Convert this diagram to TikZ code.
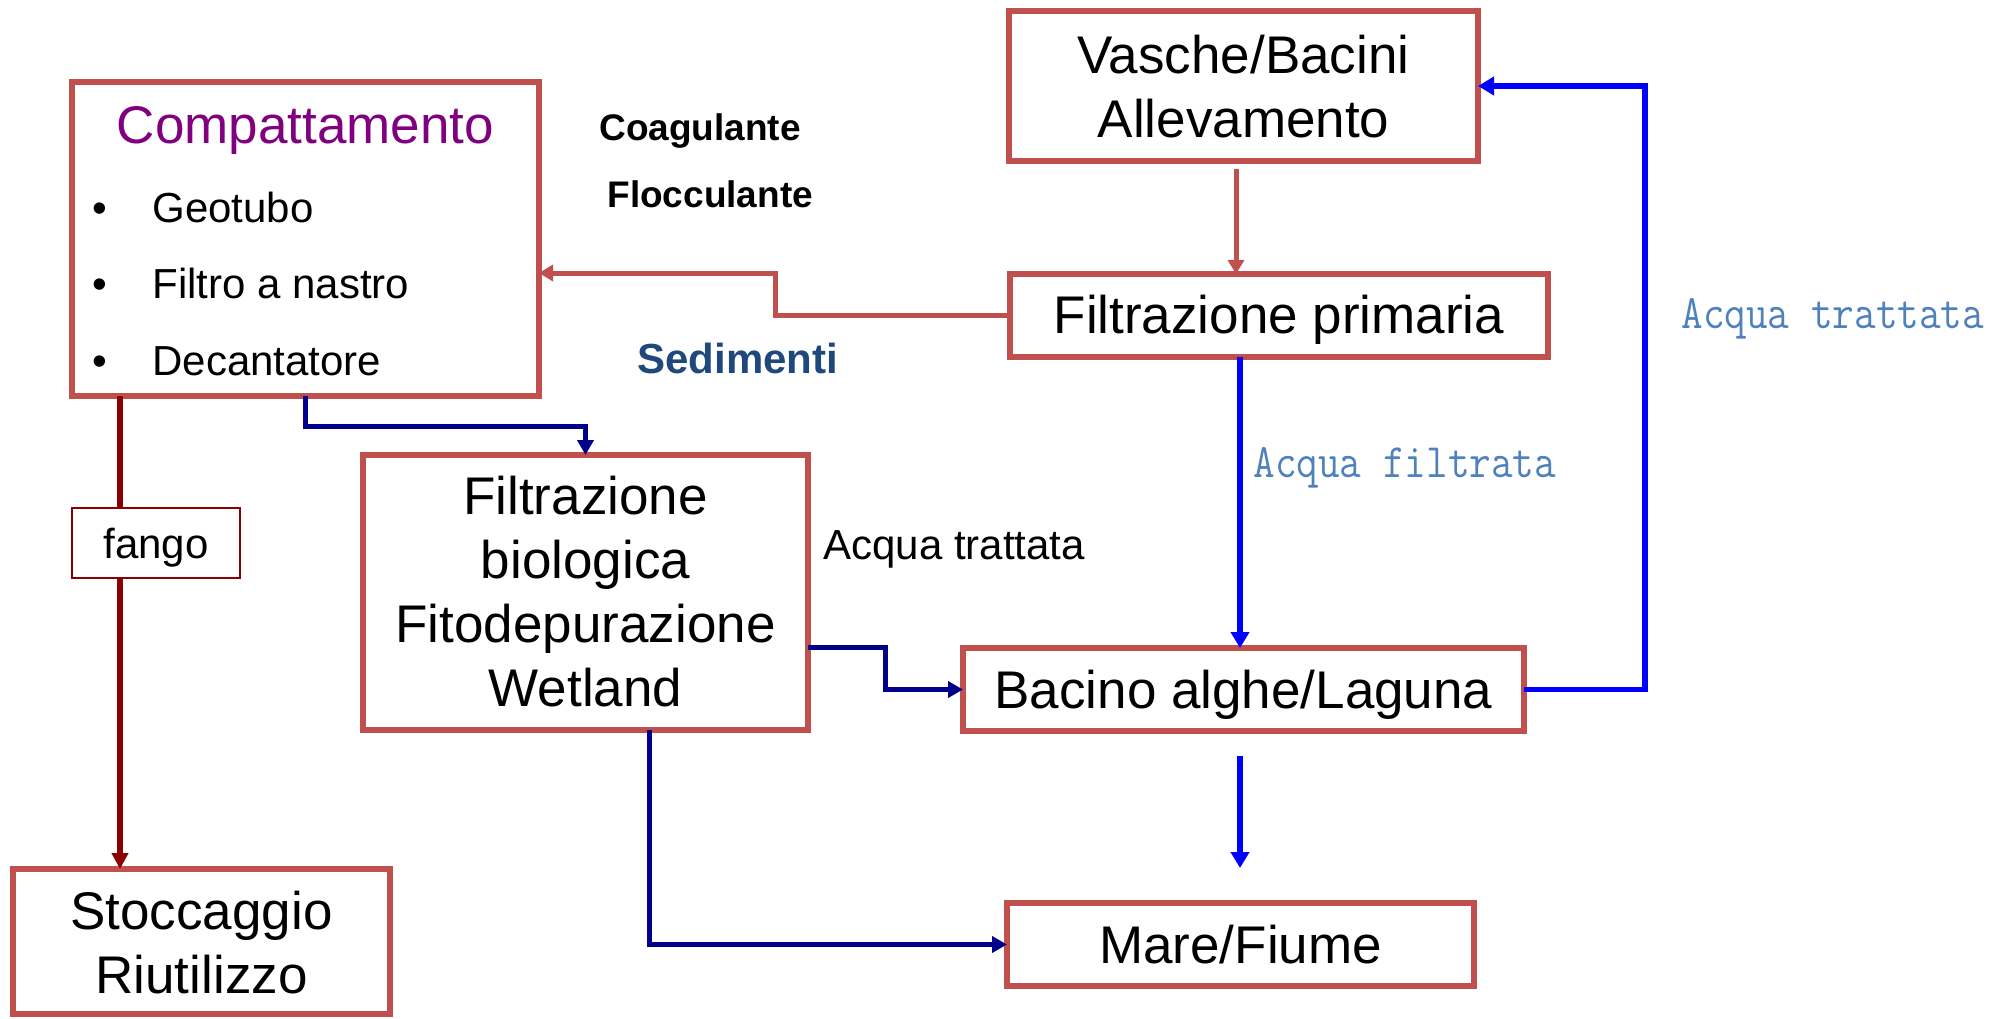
\documentclass[tikz,border=0pt]{standalone}
\usepackage{fontspec}
\setmainfont{Liberation Sans}
\usetikzlibrary{arrows.meta,calc}
\definecolor{boxred}{HTML}{C0504D}
\definecolor{fangored}{HTML}{8B0000}
\definecolor{navyline}{HTML}{00008B}
\definecolor{pureblue}{HTML}{0000FF}
\definecolor{titlepurple}{HTML}{800080}
\definecolor{sedblue}{HTML}{1F497D}
\definecolor{monoblue}{HTML}{4F81BD}
\tikzset{
  box/.style={draw=boxred, line width=2.75pt, inner sep=0pt, outer sep=0pt, rectangle},
  fangobox/.style={draw=fangored, line width=1pt, inner sep=0pt, outer sep=0pt, rectangle},
  bigtxt/.style={font=\fontsize{26.5pt}{32pt}\selectfont, anchor=base, inner sep=0pt},
  midtxt/.style={font=\fontsize{21pt}{25pt}\selectfont, anchor=base west, inner sep=0pt},
  boldtxt/.style={font=\fontsize{18.5pt}{22pt}\selectfont\bfseries, anchor=base west, inner sep=0pt},
  monotxt/.style={font=\fontsize{24pt}{28pt}\selectfont\ttfamily, text=monoblue, anchor=base west, inner sep=0pt},
  redarrow/.style={draw=boxred, line width=2.5pt, -{Triangle[length=7pt,width=8pt]}},
  navyarrow/.style={draw=navyline, line width=2.5pt, -{Triangle[length=7.5pt,width=8pt]}},
  bluearrow/.style={draw=pureblue, line width=2.6pt, -{Triangle[length=8pt,width=9pt]}},
  fangoline/.style={draw=fangored, line width=3pt},
  fangoarrow/.style={draw=fangored, line width=3pt, -{Triangle[length=8pt,width=8pt]}},
}
\begin{document}
\begin{tikzpicture}[x=0.5pt,y=-0.5pt]
\useasboundingbox (0,0) rectangle (1990,1018);

% boxes
\node[box, minimum width=233.5pt, minimum height=157pt] (comp) at (305.5,239) {};
\node[box, minimum width=234.5pt, minimum height=75pt] (vas) at (1243.5,86) {};
\node[box, minimum width=269pt, minimum height=41.5pt] (fp) at (1279,315.5) {};
\node[box, minimum width=222.5pt, minimum height=137.5pt] (fb) at (585.5,592.5) {};
\node[box, minimum width=280.5pt, minimum height=41.5pt] (bac) at (1243.5,689.5) {};
\node[box, minimum width=233.5pt, minimum height=41.5pt] (mare) at (1240.5,944.5) {};
\node[box, minimum width=188.5pt, minimum height=72.5pt] (sto) at (201.5,941.5) {};
\node[fangobox, minimum width=84pt, minimum height=35pt] (fango) at (156,543) {};

% box texts
\node[bigtxt, text=titlepurple] (tcomp) at (305.5,143) {Compattamento};
\node[midtxt] (b1) at (92,222) {•};
\node[midtxt] (i1) at (152,222) {Geotubo};
\node[midtxt] (b2) at (92,298) {•};
\node[midtxt] (i2) at (152,298) {Filtro a nastro};
\node[midtxt] (b3) at (92,375) {•};
\node[midtxt] (i3) at (152,375) {Decantatore};

\node[bigtxt] (tvas1) at (1243.5,73) {Vasche/Bacini};
\node[bigtxt] (tvas2) at (1243.5,137) {Allevamento};
\node[bigtxt] (tfp) at (1279,333) {Filtrazione primaria};
\node[bigtxt] (tfb1) at (585.5,514) {Filtrazione};
\node[bigtxt] (tfb2) at (585.5,578) {biologica};
\node[bigtxt] (tfb3) at (585.5,642) {Fitodepurazione};
\node[bigtxt] (tfb4) at (585.5,706) {Wetland};
\node[bigtxt] (tbac) at (1243.5,708) {Bacino alghe/Laguna};
\node[bigtxt] (tmare) at (1240.5,963) {Mare/Fiume};
\node[bigtxt] (tsto1) at (201.5,929) {Stoccaggio};
\node[bigtxt] (tsto2) at (201.5,993) {Riutilizzo};
\node[midtxt, anchor=base] (tfango) at (156,558) {fango};

% free labels
\node[boldtxt] (coag) at (599,140) {Coagulante};
\node[boldtxt] (flocc) at (607,207) {Flocculante};
\node[boldtxt, font=\fontsize{21pt}{25pt}\selectfont\bfseries, text=sedblue] (sed) at (637,373) {Sedimenti};
\node[midtxt] (atr) at (823,559) {Acqua trattata};
\node[monotxt] (afil) at (1253,477) {\scalebox{0.875}[1]{Acqua filtrata}};
\node[monotxt] (atr2) at (1681,328) {\scalebox{0.875}[1]{Acqua trattata}};

% connectors
\draw[redarrow] ($(vas.south)+(-7.5,8)$) coordinate (v1) -- (v1 |- fp.north);
\draw[redarrow] (fp.west) -- ++(-235,0) |- ($(comp.east)+(0,34)$);
\draw[navyarrow] (comp.south) -- ++(0,30) -| (fb.north);
\draw[fangoline] ($(comp.south)+(-185.5,0)$) coordinate (f0) -- (f0 |- fango.north);
\draw[fangoarrow] (f0 |- fango.south) -- (f0 |- sto.north);
\draw[navyarrow] ($(fb.east)+(0,54.5)$) -- ++(77,0) |- (bac.west);
\draw[navyarrow] ($(fb.south)+(63.5,0)$) |- (mare.west);
\draw[bluearrow] ($(fp.south)+(-39,0)$) coordinate (b0) -- (b0 |- bac.north);
\draw[bluearrow] (bac.east) -- ++(121,0) |- (vas.east);
\draw[bluearrow] ($(bac.south)+(-3.5,25)$) -- ($(mare.north)+(-0.5,-35)$);
\end{tikzpicture}
\end{document}
